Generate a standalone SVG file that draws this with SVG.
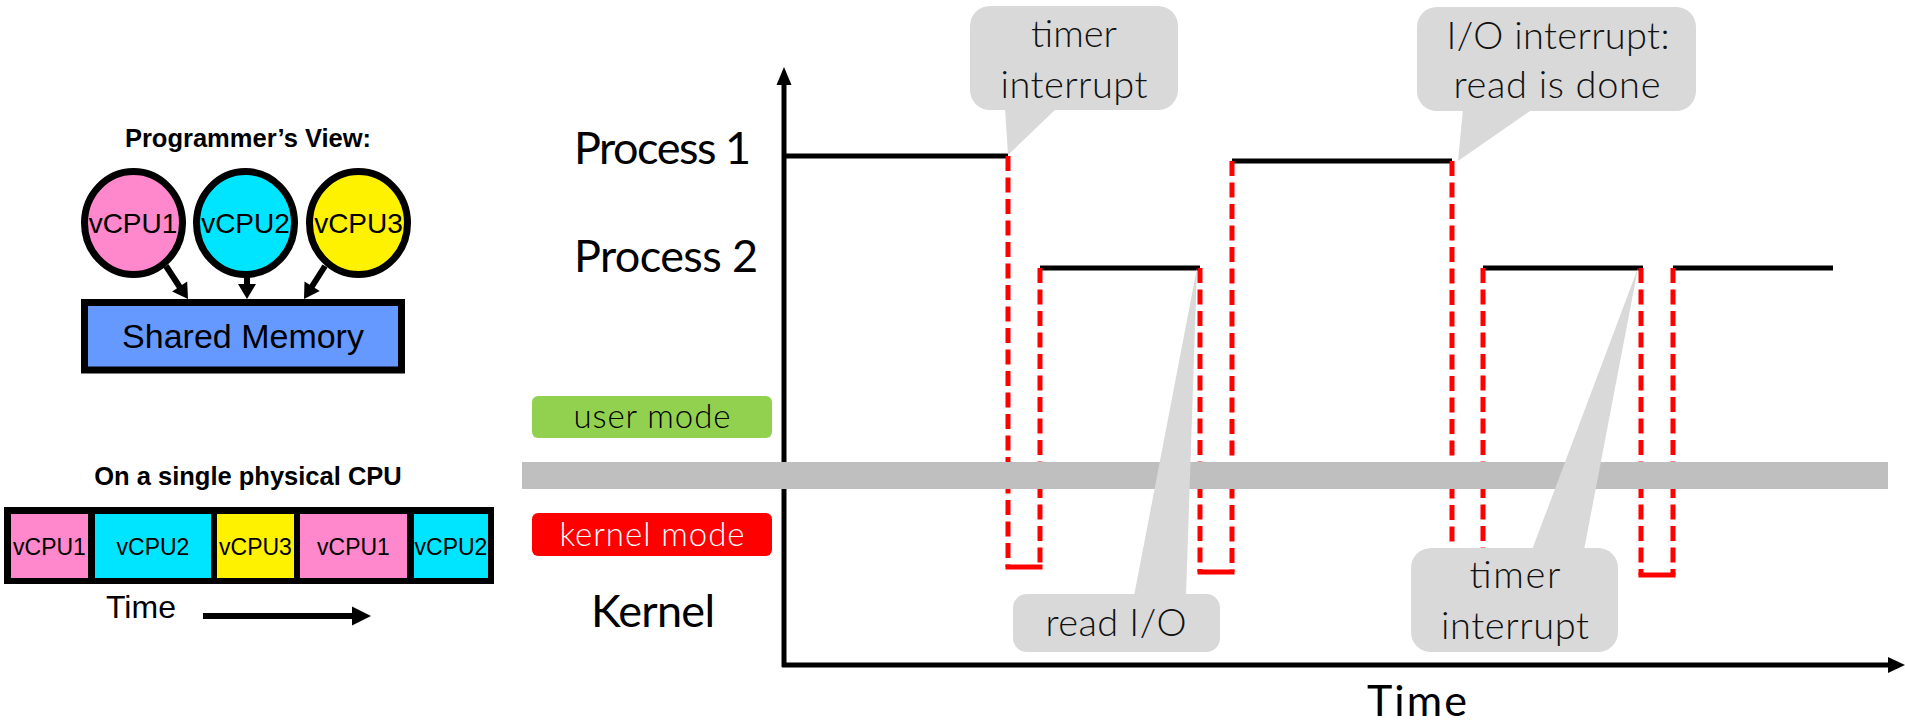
<svg xmlns="http://www.w3.org/2000/svg" width="1905" height="725" viewBox="0 0 1905 725">
<defs>
<style>
.arial{font-family:"Liberation Sans",Arial,sans-serif;fill:#000}
.title{font-weight:bold;font-size:25.5px;text-anchor:middle}
.circ{stroke:#000;stroke-width:7}
.cell{font-size:23px;text-anchor:middle}
.gill{font-family:Lato,"Noto Sans",sans-serif;fill:#000}
.lbl{font-size:45px}
.call{font-size:38px;font-weight:300;text-anchor:middle;fill:#111}
.mode{font-size:33px;font-weight:300;text-anchor:middle}
.bubble{fill:#D9D9D9}
.run{stroke:#000;stroke-width:5;fill:none}
.krn{stroke:#FF0000;stroke-width:5;fill:none;stroke-dasharray:15 6.5}
.kbot{stroke:#FF0000;stroke-width:5;fill:none}
</style>
</defs>
<rect width="1905" height="725" fill="#fff"/>

<!-- Programmer's view -->
<text class="arial title" x="248" y="147">Programmer’s View:</text>
<g id="vcpu1"><ellipse class="circ" cx="133.5" cy="223" rx="49" ry="51.5" fill="#FF88CC"/><text class="arial" x="133" y="233" font-size="28" text-anchor="middle">vCPU1</text></g>
<g id="vcpu2"><ellipse class="circ" cx="245.5" cy="223" rx="49" ry="51.5" fill="#00E5FF"/><text class="arial" x="245.5" y="233" font-size="28" text-anchor="middle">vCPU2</text></g>
<g id="vcpu3"><ellipse class="circ" cx="358.5" cy="223" rx="49" ry="51.5" fill="#FFF200"/><text class="arial" x="358.5" y="233" font-size="28" text-anchor="middle">vCPU3</text></g>
<g id="shared-memory"><rect x="84.5" y="302.5" width="317" height="67.5" fill="#6699FF" stroke="#000" stroke-width="7"/><text class="arial" x="243" y="348" font-size="34" text-anchor="middle">Shared Memory</text></g>
<g id="connectors">
<line x1="166" y1="266" x2="181" y2="289" stroke="#000" stroke-width="6"/>
<polygon points="188,299 187.2,281.5 172.2,291.5" fill="#000"/>
<line x1="247" y1="276" x2="247" y2="286" stroke="#000" stroke-width="6"/>
<polygon points="247,299 238,284 256,284" fill="#000"/>
<line x1="325" y1="266" x2="311" y2="288" stroke="#000" stroke-width="6"/>
<polygon points="304,299 319.7,291.1 304.5,281.5" fill="#000"/>
</g>

<!-- Single physical CPU -->
<text class="arial title" x="248" y="485" font-size="26">On a single physical CPU</text>
<g id="cpu-bar">
<rect x="4" y="507" width="490" height="77" fill="#000"/>
<rect x="11" y="514" width="77" height="64" fill="#FF88CC"/>
<rect x="95" y="514" width="116" height="64" fill="#00E5FF"/>
<rect x="217" y="514" width="77" height="64" fill="#FFF200"/>
<rect x="300" y="514" width="107" height="64" fill="#FF88CC"/>
<rect x="414" y="514" width="74" height="64" fill="#00E5FF"/>
<text class="arial cell" x="49.5" y="555">vCPU1</text>
<text class="arial cell" x="153" y="555">vCPU2</text>
<text class="arial cell" x="255.5" y="555">vCPU3</text>
<text class="arial cell" x="353.5" y="555">vCPU1</text>
<text class="arial cell" x="451" y="555">vCPU2</text>
</g>
<g id="time-left">
<text class="arial" x="106" y="618" font-size="32">Time</text>
<line x1="203" y1="616" x2="355" y2="616" stroke="#000" stroke-width="6"/>
<polygon points="371,616 352,606.5 352,625.5" fill="#000"/>
</g>

<!-- Timeline -->
<g id="labels">
<text class="gill lbl" x="574" y="164" textLength="177">Process 1</text>
<text class="gill lbl" x="574" y="272" textLength="184">Process 2</text>
<text class="gill lbl" x="591" y="627" textLength="124">Kernel</text>
<text class="gill" x="1367" y="716" font-size="43" textLength="100">Time</text>
</g>
<g id="user-mode"><rect x="532" y="396" width="240" height="42" rx="6" fill="#92D050"/><text class="gill mode" x="652" y="428" textLength="157">user mode</text></g>
<g id="kernel-mode"><rect x="532" y="513" width="240" height="43" rx="6" fill="#FF0000"/><text class="gill mode" x="652" y="546" textLength="185" style="fill:#fff">kernel mode</text></g>

<g id="axes">
<line x1="784" y1="667" x2="784" y2="80" stroke="#000" stroke-width="5"/>
<polygon points="784,67 776.5,85 791.5,85" fill="#000"/>
<line x1="782" y1="665" x2="1892" y2="665" stroke="#000" stroke-width="5"/>
<polygon points="1905,665 1888,657 1888,673" fill="#000"/>
</g>

<g id="running">
<line class="run" x1="784" y1="156" x2="1008" y2="156"/>
<line class="run" x1="1040" y1="268" x2="1200" y2="268"/>
<line class="run" x1="1232" y1="161" x2="1452" y2="161"/>
<line class="run" x1="1483" y1="268" x2="1643" y2="268"/>
<line class="run" x1="1673" y1="268" x2="1833" y2="268"/>
</g>

<g id="kernel-excursions">
<line class="krn" x1="1008" y1="156" x2="1008" y2="567"/>
<line class="krn" x1="1040" y1="268" x2="1040" y2="567"/>
<line class="kbot" x1="1005.5" y1="567" x2="1042.5" y2="567"/>
<line class="krn" x1="1200" y1="268" x2="1200" y2="572"/>
<line class="krn" x1="1232" y1="161" x2="1232" y2="572"/>
<line class="kbot" x1="1197.5" y1="572" x2="1234.5" y2="572"/>
<line class="krn" x1="1452" y1="161" x2="1452" y2="575"/>
<line class="krn" x1="1483" y1="268" x2="1483" y2="575"/>
<line class="krn" x1="1641" y1="268" x2="1641" y2="575"/>
<line class="krn" x1="1673" y1="268" x2="1673" y2="575"/>
<line class="kbot" x1="1638.5" y1="575" x2="1675.5" y2="575"/>
</g>

<rect id="mode-boundary" x="522" y="462" width="1366" height="27" fill="#BFBFBF"/>

<g id="callout-timer-1">
<rect class="bubble" x="970" y="6" width="208" height="104" rx="20"/>
<polygon class="bubble" points="1005,108 1057,108 1008,155"/>
<text class="gill call" x="1074" y="47">timer</text>
<text class="gill call" x="1074" y="98" textLength="147">interrupt</text>
</g>
<g id="callout-io">
<rect class="bubble" x="1417" y="7" width="279" height="104" rx="20"/>
<polygon class="bubble" points="1463,109 1533,109 1458,161"/>
<text class="gill call" x="1558" y="49" textLength="223">I/O interrupt:</text>
<text class="gill call" x="1557" y="98" textLength="207">read is done</text>
</g>
<g id="callout-read">
<polygon class="bubble" points="1134,596 1186,596 1197,268"/>
<rect class="bubble" x="1013" y="594" width="207" height="58" rx="14"/>
<text class="gill call" x="1116" y="636" textLength="141">read I/O</text>
</g>
<g id="callout-timer-2">
<polygon class="bubble" points="1532,550 1584,550 1638,268"/>
<rect class="bubble" x="1411" y="548" width="207" height="104" rx="20"/>
<text class="gill call" x="1515" y="588" textLength="91">timer</text>
<text class="gill call" x="1515" y="639" textLength="148">interrupt</text>
</g>
</svg>
